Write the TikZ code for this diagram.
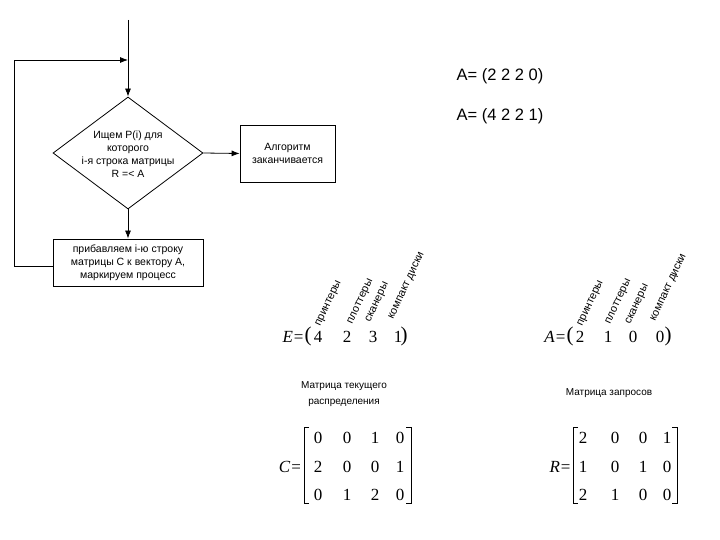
\documentclass[tikz,border=0pt]{standalone}
\usepackage{fontspec}
\setmainfont{Liberation Sans}
\newfontfamily\eqfont{Liberation Serif}
\usetikzlibrary{shapes.geometric,arrows.meta}
\tikzset{
  flowbox/.style={draw,rectangle,align=center,inner sep=0pt,font=\fontsize{10.5}{13}\selectfont},
  decision/.style={draw,diamond,minimum width=150pt,minimum height=112pt,inner sep=0pt},
  flowtxt/.style={align=center,inner sep=0pt,font=\fontsize{10.5}{13}\selectfont},
  eqtxt/.style={inner sep=0pt,font=\eqfont\fontsize{17}{17}\selectfont},
  paren/.style={inner sep=0pt,font=\eqfont\fontsize{21}{21}\selectfont},
  restxt/.style={rotate=65,anchor=base west,inner sep=0pt,font=\fontsize{11}{11}\selectfont},
  titletxt/.style={align=center,inner sep=0pt,font=\fontsize{10}{16}\selectfont},
}
\begin{document}
\begin{tikzpicture}[x=1pt,y=-1pt,line width=0.8pt,>={Latex[length=8pt,width=6pt]}]
  \useasboundingbox (0,0) rectangle (720,540);
  % flowchart
  \coordinate (start) at (128,20);
  \coordinate (merge) at (128,60);
  \coordinate (loopx) at (14,60);
  \node[decision] (search) at (128,153) {};
  \node[flowtxt] (searchtxt) at (128,154) {Ищем P(i) для\\которого\\i-я строка матрицы\\R =< A};
  \node[flowbox,minimum width=95pt,minimum height=57pt] (finish) at (287.5,153.5) {Алгоритм\\заканчивается};
  \node[flowbox,minimum width=150pt,minimum height=47pt] (add) at (128,262.5) {прибавляем i-ю строку\\матрицы C к вектору A,\\маркируем процесс};
  \draw[->] (start) -- (search.north);
  \draw[->] (search.east) -- (finish.west);
  \draw[->] (search.south) -- (add.north);
  \draw[->] ([yshift=-4pt]add.west) -- ([yshift=-4pt]add.west -| loopx) -- (loopx) -- (merge);
  % vector A
  \node[font=\fontsize{16.5}{16.5}\selectfont] (stepone) at (500,76) {A= (2 2 2 0)};
  \node[font=\fontsize{16.5}{16.5}\selectfont] (steptwo) at (500,116) {A= (4 2 2 1)};
  % E
  \node[eqtxt] (Elhs) at (293,337) {\textit{E}\kern1pt=};
  \node[paren] (Eopen) at (308,336) {(};
  \node[paren] (Eclose) at (404,336) {)};
  \foreach \x/\v [count=\i] in {318/4,347/2,373/3,398/1}
    \node[eqtxt] (E\i) at (\x,337) {\v};
  \foreach \x/\y/\t [count=\i] in {320/327/принтеры,352/325/плоттеры,370/323/сканеры,393/320/компакт диски}
    \node[restxt] (Elab\i) at (\x,\y) {\t};
  % A
  \node[eqtxt] (Alhs) at (555,337) {\textit{A}\kern1pt=};
  \node[paren] (Aopen) at (570,336) {(};
  \node[paren] (Aclose) at (668,336) {)};
  \foreach \x/\v [count=\i] in {580/2,608/1,633/0,660/0}
    \node[eqtxt] (A\i) at (\x,337) {\v};
  \foreach \x/\y/\t [count=\i] in {582/327/принтеры,610/325/плоттеры,630/325/сканеры,655/322/компакт диски}
    \node[restxt] (Alab\i) at (\x,\y) {\t};
  % C
  \node[titletxt] (Ctitle) at (344,394) {Матрица текущего\\распределения};
  \node[eqtxt] (Clhs) at (290,467) {\textit{C}\kern1pt=};
  \draw[line width=0.6pt] (309,427) -- (304,427) -- (304,503) -- (309,503);
  \draw[line width=0.6pt] (406,427) -- (411,427) -- (411,503) -- (406,503);
  \foreach \y/\a/\b/\c/\d [count=\r] in {438/0/0/1/0,467/2/0/0/1,495/0/1/2/0} {
    \node[eqtxt] (C\r a) at (318,\y) {\a};
    \node[eqtxt] (C\r b) at (347,\y) {\b};
    \node[eqtxt] (C\r c) at (375,\y) {\c};
    \node[eqtxt] (C\r d) at (400,\y) {\d};
  }
  % R
  \node[titletxt] (Rtitle) at (609,393) {Матрица запросов};
  \node[eqtxt] (Rlhs) at (560,467) {\textit{R}\kern1pt=};
  \draw[line width=0.6pt] (578,427) -- (573,427) -- (573,503) -- (578,503);
  \draw[line width=0.6pt] (672,427) -- (677,427) -- (677,503) -- (672,503);
  \foreach \y/\a/\b/\c/\d [count=\r] in {438/2/0/0/1,467/1/0/1/0,495/2/1/0/0} {
    \node[eqtxt] (R\r a) at (583,\y) {\a};
    \node[eqtxt] (R\r b) at (615,\y) {\b};
    \node[eqtxt] (R\r c) at (643,\y) {\c};
    \node[eqtxt] (R\r d) at (667,\y) {\d};
  }
\end{tikzpicture}
\end{document}
